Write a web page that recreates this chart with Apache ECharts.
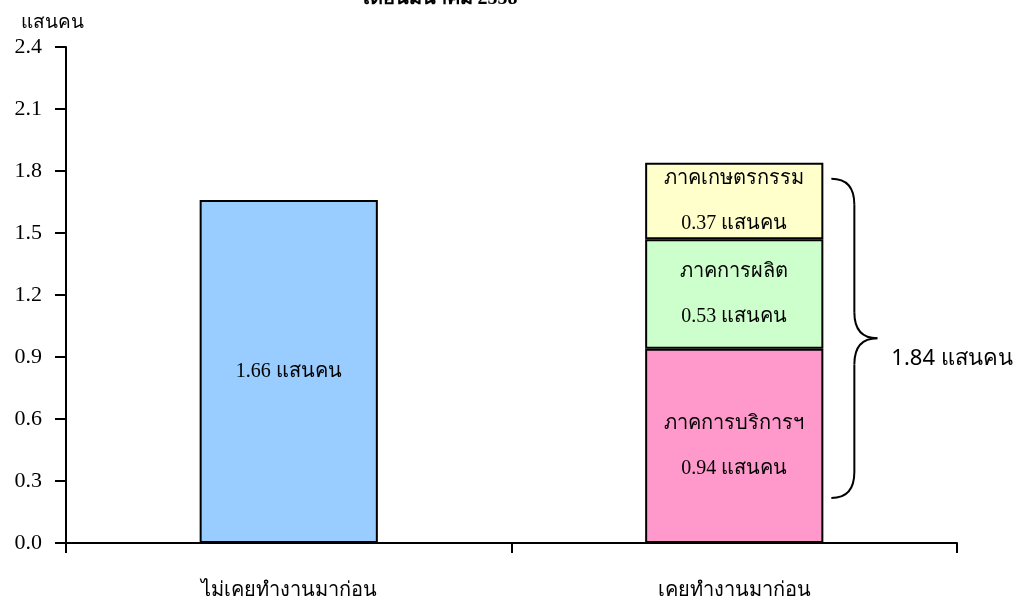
<!DOCTYPE html>
<html>
<head>
<meta charset="utf-8">
<script src="https://cdn.jsdelivr.net/npm/echarts@6/dist/echarts.min.js"></script>
<style>
html,body{margin:0;padding:0;background:#fff;}
#main{width:1021px;height:610px;}
</style>
</head>
<body>
<div id="main"></div>
<script>
var categories = ['ไม่เคยทำงานมาก่อน', 'เคยทำงานมาก่อน'];
var neverWorked = [1.66, '-'];
var services = ['-', 0.94];
var manufacturing = ['-', 0.53];
var agriculture = ['-', 0.37];
var sectorNames = ['ภาคการบริการฯ', 'ภาคการผลิต', 'ภาคเกษตรกรรม'];
var yTicks = [0, 0.3, 0.6, 0.9, 1.2, 1.5, 1.8, 2.1, 2.4];
var unit = 'แสนคน';
var titleText = 'เดือนมีนาคม 2558';

var serif = "'Liberation Serif', 'Times New Roman', serif";
var chart = echarts.init(document.getElementById('main'));

function sectorLabel(name) {
  return {
    show: true, position: 'inside', color: '#000', fontFamily: serif, fontSize: 20,
    lineHeight: 45,
    formatter: function (p) { return name + '\n' + p.value.toFixed(2) + ' ' + unit; }
  };
}
var border = { borderColor: '#000', borderWidth: 2 };

chart.setOption({
  animation: false,
  backgroundColor: '#fff',
  grid: { left: 66, right: 64, top: 47, bottom: 67 },
  xAxis: {
    type: 'category', data: categories, boundaryGap: true,
    axisLine: { lineStyle: { color: '#000', width: 2 } },
    axisTick: { show: true, length: 10, lineStyle: { color: '#000', width: 2 } },
    axisLabel: { color: '#000', fontFamily: serif, fontSize: 20, margin: 38 }
  },
  yAxis: {
    type: 'value', min: yTicks[0], max: yTicks[yTicks.length - 1], interval: 0.3,
    name: unit, nameLocation: 'end', nameGap: 14,
    nameTextStyle: { color: '#000', fontFamily: serif, fontSize: 19, align: 'center', padding: [0, 28, 0, 0] },
    splitLine: { show: false },
    axisLine: { show: true, lineStyle: { color: '#000', width: 2 } },
    axisTick: { show: true, length: 11, lineStyle: { color: '#000', width: 2 } },
    axisLabel: { color: '#000', fontFamily: serif, fontSize: 22, margin: 24,
      formatter: function (v) { return v.toFixed(1); } }
  },
  series: [
    { name: 'never', type: 'bar', stack: 's', barWidth: '40%', data: neverWorked,
      itemStyle: Object.assign({ color: '#99CCFF' }, border),
      label: { show: true, position: 'inside', color: '#000', fontFamily: serif, fontSize: 20,
        formatter: function (p) { return p.value.toFixed(2) + ' ' + unit; } } },
    { name: sectorNames[0], type: 'bar', stack: 's', barWidth: '40%', data: services,
      itemStyle: Object.assign({ color: '#FF99CC' }, border), label: sectorLabel(sectorNames[0]) },
    { name: sectorNames[1], type: 'bar', stack: 's', barWidth: '40%', data: manufacturing,
      itemStyle: Object.assign({ color: '#CCFFCC' }, border), label: sectorLabel(sectorNames[1]) },
    { name: sectorNames[2], type: 'bar', stack: 's', barWidth: '40%', data: agriculture,
      itemStyle: Object.assign({ color: '#FFFFCC' }, border), label: sectorLabel(sectorNames[2]) }
  ]
});

// Brace and total annotation, positioned from data through the axes
var total = services[1] + manufacturing[1] + agriculture[1];
var xc = chart.convertToPixel({ xAxisIndex: 0 }, categories[1]);
var x1 = chart.convertToPixel({ xAxisIndex: 0 }, categories[0]);
var half = (xc - x1) * 0.2;
var yTop = chart.convertToPixel({ yAxisIndex: 0 }, total) + 16;
var yBot = chart.convertToPixel({ yAxisIndex: 0 }, 0) - 45;
var x0 = xc + half + 8, xm = x0 + 23, tip = xm + 23;
var mid = (yTop + yBot) / 2, r = 26;
var st = { stroke: '#000', lineWidth: 2, fill: null };
function curve(ax, ay, cx, cy, bx, by) {
  return { type: 'bezierCurve', shape: { x1: ax, y1: ay, x2: bx, y2: by, cpx1: cx, cpy1: cy }, style: st };
}
function seg(ax, ay, bx, by) {
  return { type: 'line', shape: { x1: ax, y1: ay, x2: bx, y2: by }, style: st };
}

chart.setOption({
  graphic: [
    curve(x0, yTop, xm, yTop, xm, yTop + r),
    seg(xm, yTop + r, xm, mid - r),
    curve(xm, mid - r, xm, mid, tip, mid),
    curve(tip, mid, xm, mid, xm, mid + r),
    seg(xm, mid + r, xm, yBot - r),
    curve(xm, yBot - r, xm, yBot, x0, yBot),
    { type: 'text', x: tip + 14, y: mid + 20,
      style: { text: total.toFixed(2) + ' ' + unit, fill: '#000', fontFamily: "'Noto Sans', 'DejaVu Sans', sans-serif", fontSize: 22, verticalAlign: 'middle' } },
    { type: 'text', x: 440, y: 9,
      style: { text: titleText, fill: '#000', fontFamily: serif, fontSize: 20, fontWeight: 'bold', align: 'center', verticalAlign: 'bottom' } }
  ]
});
</script>
</body>
</html>
